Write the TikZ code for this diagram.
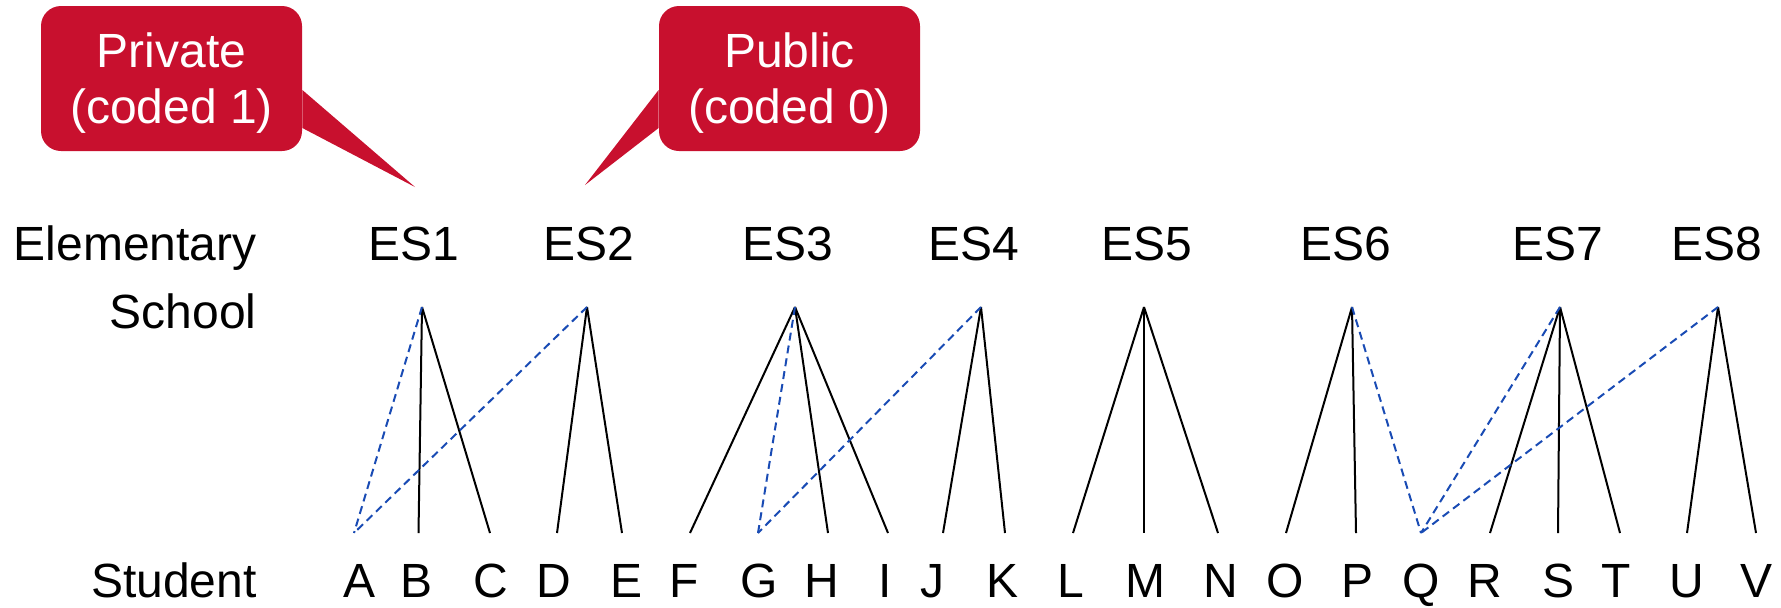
\documentclass[tikz,border=0pt]{standalone}
\usepackage{fontspec}
\setmainfont{Liberation Sans}
\definecolor{CalloutRed}{RGB}{200,16,46}
\definecolor{LinkBlue}{RGB}{25,75,180}

\begin{document}
\begin{tikzpicture}[x=0.5pt, y=-0.5pt, font=\fontsize{24}{28}\selectfont,
  link/.style={line width=1pt},
  xlink/.style={line width=1pt, LinkBlue, dash pattern=on 4pt off 2.5pt},
  bubble/.style={fill=CalloutRed, rounded corners=10pt, minimum width=130.5pt,
    minimum height=72.5pt, inner sep=0pt},
  bubbletext/.style={text=white, align=center, inner sep=0pt},
  lbl/.style={anchor=base, inner sep=0pt}]
\useasboundingbox (0,0) rectangle (1781,607);
% callouts
\node[bubble] (priv) at (171.5,78.5) {};
\node[bubble] (pub)  at (789.5,78.5) {};
\node[bubbletext] (privtext) at ([yshift=-2.5pt]priv.center) {Private\\(coded 1)};
\node[bubbletext] (pubtext)  at ([yshift=-2.5pt]pub.center) {Public\\(coded 0)};
\coordinate (privtip) at (415,187);
\coordinate (pubtip)  at (585,185);
\fill[CalloutRed] (priv.east |- 0,90) -- (privtip) -- (priv.east |- 0,128) -- cycle;
\fill[CalloutRed] (pub.west |- 0,90) -- (pubtip) -- (pub.west |- 0,128) -- cycle;
% row labels
\node[lbl, anchor=base east] (elem)    at (257,260) {Elementary};
\node[lbl, anchor=base east] (school)  at (257,328) {School};
\node[lbl, anchor=base east] (student) at (257,597) {Student};
% schools and students
\foreach \n/\x in {1/414,2/589,3/788,4/974,5/1147,6/1346,7/1558,8/1717}
  \node[lbl] (l\n) at (\x,260) {ES\n};
\foreach \n/\x in {1/422,2/587,3/795,4/981,5/1144,6/1352,7/1560,8/1718}
  \coordinate (s\n) at (\x,307);
\foreach \c/\x/\fx in {A/360/354,B/417/418.5,C/491/490,D/554/557,E/626/622,
    F/684/690,G/759/758,H/822/828,I/885/888,J/932/943,K/1002/1005,L/1071/1073,
    M/1145/1144,N/1221/1218,O/1285/1286,P/1357/1356,Q/1421/1421,R/1485/1490,
    S/1558/1558,T/1616/1620,U/1687/1687,V/1756/1756} {
  \node[lbl] (\c) at (\x,597) {\c};
  \coordinate (f\c) at (\fx,533);
}
% links
\foreach \s/\c in {1/B,1/C,2/D,2/E,3/F,3/H,3/I,4/J,4/K,5/L,5/M,5/N,
    6/O,6/P,7/R,7/S,7/T,8/U,8/V}
  \draw[link] (s\s) -- (f\c);
\foreach \s/\c in {1/A,2/A,3/G,4/G,6/Q,7/Q,8/Q}
  \draw[xlink] (s\s) -- (f\c);
\end{tikzpicture}
\end{document}
